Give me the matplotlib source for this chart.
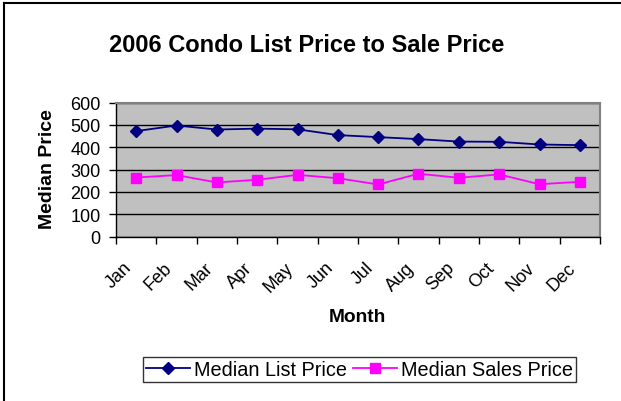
import numpy as np
import matplotlib
matplotlib.use("Agg")
import matplotlib.pyplot as plt
from matplotlib.lines import Line2D
from matplotlib.transforms import ScaledTranslation

plt.rcParams['font.family'] = ['Liberation Sans', 'DejaVu Sans']

months = ["Jan", "Feb", "Mar", "Apr", "May", "Jun",
          "Jul", "Aug", "Sep", "Oct", "Nov", "Dec"]
list_price = [472, 497, 479, 483, 480, 454, 445, 436, 425, 424, 412, 409]
sales_price = [264, 275, 242, 254, 276, 261, 233, 281, 263, 278, 234, 245]
yticks = [0, 100, 200, 300, 400, 500, 600]

W, H = 621, 402
fig = plt.figure(figsize=(W / 100, H / 100), dpi=100)
fig.patch.set_facecolor("white")

# plot area in pixels
x0, x1, y0, y1 = 116, 600, 103.5, 237.5
ax = fig.add_axes([x0 / W, 1 - y1 / H, (x1 - x0) / W, (y1 - y0) / H])
ax.set_facecolor("#C0C0C0")

x = np.arange(len(months)) + 0.5
ax.plot(x, list_price, color="#000080", marker="D", markersize=6.5,
        linewidth=1.3, label="Median List Price")
ax.plot(x, sales_price, color="#FF00FF", marker="s", markersize=7.5,
        linewidth=1.3, label="Median Sales Price")

ax.set_xlim(0, len(months))
ax.set_ylim(0, 600)
ax.set_yticks(yticks)
ax.set_yticklabels([str(v) for v in yticks], fontsize=13)
ax.yaxis.grid(True, color="black", linewidth=1)
ax.set_axisbelow(True)

ax.set_xticks(np.arange(len(months) + 1))
ax.set_xticklabels([])
ax.set_xticks(x, minor=True)
ax.set_xticklabels(months, minor=True, rotation=45, ha="right", va="center",
                   rotation_mode="anchor", fontsize=13)
ax.tick_params(axis="x", which="minor", length=0, pad=11)
ax.tick_params(axis="x", which="major", length=5, width=1, color="black")
ax.tick_params(axis="y", length=5, width=1, color="black", pad=6)

# nudge month labels down/left like the original
shift = ScaledTranslation(-7 / 100, -13 / 100, fig.dpi_scale_trans)
for lbl in ax.get_xticklabels(minor=True):
    lbl.set_transform(lbl.get_transform() + shift)

for s in ["top", "right"]:
    ax.spines[s].set_color("#808080")
    ax.spines[s].set_linewidth(1.5)
for s in ["left", "bottom"]:
    ax.spines[s].set_color("black")
    ax.spines[s].set_linewidth(1)

fig.text(306.5 / W, 1 - 45 / H, "2006 Condo List Price to Sale Price",
         fontsize=17, fontweight="bold", ha="center", va="center")
fig.text(47 / W, 1 - 169 / H, "Median Price", fontsize=14,
         fontweight="bold", rotation=90, ha="center", va="center")
fig.text(357 / W, 1 - 318 / H, "Month", fontsize=13.8,
         fontweight="bold", ha="center", va="center")

leg = fig.legend(loc="center", bbox_to_anchor=(359.5 / W, 1 - 370.5 / H),
                 ncol=2, fontsize=14.3, frameon=True, fancybox=False,
                 edgecolor="black", handlelength=2.2, handletextpad=0.2,
                 columnspacing=0.3, borderpad=0.15, borderaxespad=0)
leg.get_frame().set_linewidth(1)

# chart border (left and top only visible)
fig.add_artist(Line2D([4 / W, 4 / W], [0, 1 - 4 / H], color="black",
                      linewidth=1.5, transform=fig.transFigure))
fig.add_artist(Line2D([4 / W, 1], [1 - 4 / H, 1 - 4 / H], color="black",
                      linewidth=1.5, transform=fig.transFigure))

fig.savefig("out.png", dpi=100)
